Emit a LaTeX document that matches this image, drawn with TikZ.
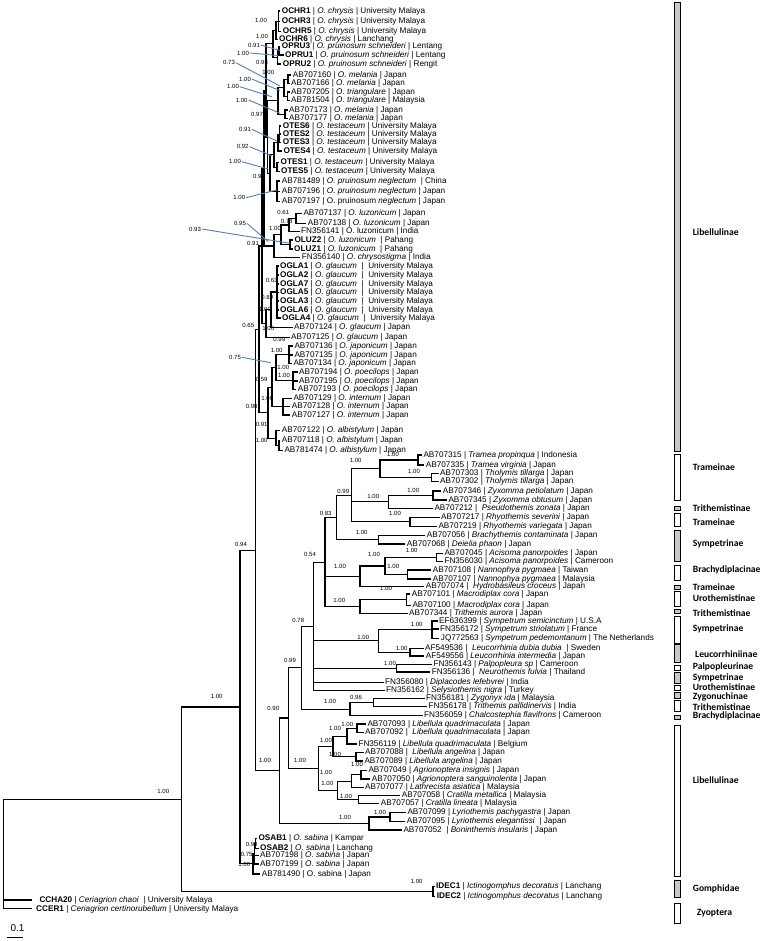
\documentclass[tikz,border=0pt]{standalone}
\usepackage{fontspec}
\setmainfont{Liberation Sans}
\newfontfamily\carl{Carlito}
\usetikzlibrary{calc}
\definecolor{barfill}{RGB}{200,200,200}
\definecolor{leadblue}{RGB}{79,129,189}
\tikzset{
 br/.style={line width=1.1pt,line cap=rect},
 leaf/.style={anchor=west,inner sep=0pt,font=\fontsize{8.2}{9}\selectfont},
 sup/.style={inner sep=0pt,font=\fontsize{6}{6}\selectfont},
 lead/.style={draw=leadblue,line width=0.9pt},
 sub/.style={anchor=west,inner sep=0pt,font=\fontsize{9.6}{10}\selectfont\carl\bfseries},
 sbar/.style={draw=black,line width=1pt}
}
\newcommand\lf[4]{\coordinate (#1) at ({#2-2},#3); \node[leaf] (#1t) at (#2,#3) {#4};}
\newcommand\nd[5]{\path let \p1=(#3), \p2=(#4) in coordinate (#1) at (#2pt,{0.5*(\y1+\y2)});
 \foreach \ch in {#5} {\draw[br] (#1) |- (\ch);}}
\newcounter{svc}
\newcommand\sv[3]{\stepcounter{svc}\edef\svname{sv\arabic{svc}}\node[sup] (\svname) at (#2,#3) {#1};}
\newcommand\svl[5]{\sv{#1}{#2}{#3}\draw[lead] ([xshift=0.8pt]\svname.east) -- (#4,#5);}
\newcommand\sfb[7]{\draw[sbar,fill=#4] (674,#2) rectangle (680.7,#3); \node[sub] (#1) at (#7,#6) {#5};}
\begin{document}
\begin{tikzpicture}[x=1pt,y=-1pt]
\fill[white] (0,0) rectangle (766,941);
\useasboundingbox (0,0) rectangle (766,941);
% ---------- Orthetrum leaves
\lf{ch1}{281.7}{11}{\textbf{OCHR1} | \textit{O. chrysis} | University Malaya}
\lf{ch3}{281.7}{21.7}{\textbf{OCHR3} | \textit{O. chrysis} | University Malaya}
\lf{ch5}{282.7}{31.7}{\textbf{OCHR5} | \textit{O. chrysis} | University Malaya}
\lf{ch6}{279}{39.3}{\textbf{OCHR6} | \textit{O. chrysis} | Lanchang}
\lf{pr3}{281.7}{46.7}{\textbf{OPRU3} | \textit{O. pruinosum schneideri} | Lentang}
\lf{pr1}{285}{55}{\textbf{OPRU1} | \textit{O. pruinosum schneideri} | Lentang}
\lf{pr2}{282.7}{64}{\textbf{OPRU2} | \textit{O. pruinosum schneideri} | Rengit}
\lf{m160}{292.7}{75}{AB707160 | \textit{O. melania} | Japan}
\lf{m166}{291}{83.3}{AB707166 | \textit{O. melania} | Japan}
\lf{t205}{291}{92}{AB707205 | \textit{O. triangulare} | Japan}
\lf{t504}{291}{100.7}{AB781504 | \textit{O. triangulare} | Malaysia}
\lf{m173}{289}{110}{AB707173 | \textit{O. melania} | Japan}
\lf{m177}{289}{118.3}{AB707177 | \textit{O. melania} | Japan}
\lf{te6}{282.7}{126}{\textbf{OTES6} | \textit{O. testaceum} | University Malaya}
\lf{te2}{282.7}{134}{\textbf{OTES2} | \textit{O. testaceum} | University Malaya}
\lf{te3}{282.7}{142.3}{\textbf{OTES3} | \textit{O. testaceum} | University Malaya}
\lf{te4}{283.3}{151}{\textbf{OTES4} | \textit{O. testaceum} | University Malaya}
\lf{te1}{280.5}{162.7}{\textbf{OTES1} | \textit{O. testaceum} | University Malaya}
\lf{te5}{281}{171.7}{\textbf{OTES5} | \textit{O. testaceum} | University Malaya}
\lf{ng89}{281.7}{181}{AB781489 | \textit{O. pruinosum neglectum}\ \ | China}
\lf{ng96}{281.7}{191.7}{AB707196 | \textit{O. pruinosum neglectum} | Japan}
\lf{ng97}{281.7}{201.7}{AB707197 | O. pruinosum \textit{neglectum} | Japan}
\lf{lz37}{303.3}{213.3}{AB707137 | \textit{O. luzonicum} | Japan}
\lf{lz38}{307.7}{223.3}{AB707138 | \textit{O. luzonicum} | Japan}
\lf{lz41}{301}{231.7}{FN356141 | O. luzonicum | India}
\lf{lu2}{294.3}{240}{\textbf{OLUZ2} | \textit{O. luzonicum}\ \ | Pahang}
\lf{lu1}{294}{249}{\textbf{OLUZ1} | \textit{O. luzonicum}\ \ | Pahang}
\lf{cs40}{301.7}{257.3}{FN356140 | \textit{O. chrysostigma} | India}
\lf{g1}{280}{266}{\textbf{OGLA1} | \textit{O. glaucum}\ \ |\ \ University Malaya}
\lf{g2}{280}{275}{\textbf{OGLA2} | \textit{O. glaucum}\ \ |\ \ University Malaya}
\lf{g7}{280}{284}{\textbf{OGLA7} | \textit{O. glaucum}\ \ |\ \ University Malaya}
\lf{g5}{280}{292.3}{\textbf{OGLA5} | \textit{O. glaucum}\ \ |\ \ University Malaya}
\lf{g3}{280}{301}{\textbf{OGLA3} | \textit{O. glaucum}\ \ |\ \ University Malaya}
\lf{g6}{280}{310}{\textbf{OGLA6} | \textit{O. glaucum}\ \ |\ \ University Malaya}
\lf{g4}{282}{318}{\textbf{OGLA4} | \textit{O. glaucum}\ \ |\ \ University Malaya}
\lf{g124}{294}{327.7}{AB707124 | \textit{O. glaucum} | Japan}
\lf{g125}{291}{337.7}{AB707125 | \textit{O. glaucum} | Japan}
\lf{j136}{294.3}{346}{AB707136 | \textit{O. japonicum} | Japan}
\lf{j135}{294.3}{355}{AB707135 | \textit{O. japonicum} | Japan}
\lf{j134}{293.3}{363.7}{AB707134 | \textit{O. japonicum} | Japan}
\lf{p194}{299}{372}{AB707194 | \textit{O. poecilops} | Japan}
\lf{p195}{299}{381}{AB707195 | \textit{O. poecilops} | Japan}
\lf{p193}{297.7}{389.7}{AB707193 | \textit{O. poecilops} | Japan}
\lf{i129}{293.3}{398.3}{AB707129 | \textit{O. internum} | Japan}
\lf{i128}{291.7}{406.7}{AB707128 | \textit{O. internum} | Japan}
\lf{i127}{291.7}{415}{AB707127 | \textit{O. internum} | Japan}
\lf{a122}{281.7}{430.7}{AB707122 | \textit{O. albistylum} | Japan}
\lf{a118}{281.7}{440.7}{AB707118 | \textit{O. albistylum} | Japan}
\lf{a474}{284.3}{450.7}{AB781474 | \textit{O. albistylum} | Japan}
% ---------- other leaves
\lf{tr15}{423.3}{455}{AB707315 | \textit{Tramea propinqua} | Indonesia}
\lf{tr35}{425.7}{465}{AB707335 | \textit{Tramea virginia} | Japan}
\lf{th03}{440}{473.3}{AB707303 | \textit{Tholymis tillarga} | Japan}
\lf{th02}{440}{481.7}{AB707302 | \textit{Tholymis tillarga} | Japan}
\lf{zy46}{442.7}{491}{AB707346 | \textit{Zyxomma petiolatum} | Japan}
\lf{zy45}{448.3}{500}{AB707345 | \textit{Zyxomma obtusum} | Japan}
\lf{ps12}{434.3}{508.3}{AB707212 |\ \ \textit{Pseudothemis zonata} | Japan}
\lf{rh17}{441}{517.3}{AB707217 | \textit{Rhyothemis severini} | Japan}
\lf{rh19}{438.3}{526.3}{AB707219 | \textit{Rhyothemis variegata} | Japan}
\lf{br56}{426.7}{535.7}{AB707056 | \textit{Brachythemis contaminata} | Japan}
\lf{de68}{406.7}{544}{AB707068 | \textit{Deielia phaon} | Japan}
\lf{ac45}{444.3}{553.3}{AB707045 | \textit{Acisoma panorpoides} | Japan}
\lf{ac30}{444.3}{561.7}{FN356030 | \textit{Acisoma panorpoides} | Cameroon}
\lf{na08}{432.7}{570}{AB707108 | \textit{Nannophya pygmaea} | Taiwan}
\lf{na07}{432.7}{579}{AB707107 | \textit{Nannophya pygmaea} | Malaysia}
\lf{hy74}{425.7}{586.7}{AB707074 |\ \ \textit{Hydrobasileus croceus} | Japan}
\lf{mc01}{411.7}{594}{AB707101 | \textit{Macrodiplax cora} | Japan}
\lf{mc00}{412.3}{605.7}{AB707100 | \textit{Macrodiplax cora} | Japan}
\lf{tau}{409}{613.3}{AB707344 | \textit{Trithemis aurora} | Japan}
\lf{sy99}{439}{621}{EF636399 | \textit{Sympetrum semicinctum} | U.S.A}
\lf{sy72}{440}{629}{FN356172 | \textit{Sympetrum striolatum} | France}
\lf{sy63}{440.7}{638.3}{JQ772563 | \textit{Sympetrum pedemontanum} | The Netherlands}
\lf{le36}{425}{648.3}{AF549536 |\ \ \textit{Leucorrhinia dubia dubia}\ \ | Sweden}
\lf{le56}{425.7}{656}{AF549556 | \textit{Leucorrhinia intermedia} | Japan}
\lf{pa43}{433.3}{664.3}{FN356143 | \textit{Palpopleura sp} | Cameroon}
\lf{ne36}{431.7}{672}{FN356136 |\ \ \textit{Neurothemis fulvia} | Thailand}
\lf{di80}{385}{682.3}{FN356080 | \textit{Diplacodes lefebvrei} | India}
\lf{se62}{386}{690.3}{FN356162 | \textit{Selysiothemis nigra} | Turkey}
\lf{zg81}{426}{698.3}{FN356181 | \textit{Zygonyx ida} | Malaysia}
\lf{tp78}{428.3}{706.7}{FN356178 | \textit{Trithemis pallidinervis} | India}
\lf{cf59}{424}{715.7}{FN356059 | \textit{Chalcostephia flavifrons} | Cameroon}
\lf{lq93}{367.3}{724}{AB707093 | \textit{Libellula quadrimaculata} | Japan}
\lf{lq92}{365}{732.7}{AB707092 |\ \ \textit{Libellula quadrimaculata} | Japan}
\lf{lq19}{358.3}{744}{FN356119 | \textit{Libellula quadrimaculata} | Belgium}
\lf{la88}{365}{752.7}{AB707088 |\ \ \textit{Libellula angelina} | Japan}
\lf{la89}{364.3}{761}{AB707089 | \textit{Libellula angelina} | Japan}
\lf{ag49}{368.3}{770.7}{AB707049 | \textit{Agrionoptera insignis} | Japan}
\lf{ag50}{371.7}{779}{AB707050 | \textit{Agrionoptera sanguinolenta} | Japan}
\lf{lt77}{365}{787.3}{AB707077 | \textit{Lathrecista asiatica} | Malaysia}
\lf{cr58}{401.7}{795.7}{AB707058 | \textit{Cratilla metallica} | Malaysia}
\lf{cr57}{380.7}{803.3}{AB707057 | \textit{Cratilla lineata} | Malaysia}
\lf{ly99}{407.3}{812.3}{AB707099 | \textit{Lyriothemis pachygastra} | Japan}
\lf{ly95}{406.7}{821.7}{AB707095 | \textit{Lyriothemis elegantissi}\ \ | Japan}
\lf{bo52}{403.3}{830}{AB707052\ \ | \textit{Boninthemis insularis} | Japan}
\lf{sa1}{258.3}{838.3}{\textbf{OSAB1} | \textit{O. sabina} | Kampar}
\lf{sa2}{260}{848.3}{\textbf{OSAB2} | \textit{O. sabina} | Lanchang}
\lf{sa98}{260}{855.5}{AB707198 | \textit{O. sabina} | Japan}
\lf{sa99}{260}{864}{AB707199 | \textit{O. sabina} | Japan}
\lf{sa90}{261.7}{874}{AB781490 | O. sabina | Japan}
\lf{id1}{436}{886.5}{\textbf{IDEC1} | \textit{Ictinogomphus decoratus} | Lanchang}
\lf{id2}{436.7}{896.5}{\textbf{IDEC2} | \textit{Ictinogomphus decoratus} | Lanchang}
\coordinate (cc1) at (31.7,900);
\node[leaf] (cc1t) at (39.3,900) {\textbf{CCHA20} | \textit{Ceriagrion chaoi}\ \ | University Malaya};
\coordinate (cc2) at (31.7,908.7);
\node[leaf] (cc2t) at (36,909) {\textbf{CCER1} | \textit{Ceriagrion certinorubellum} | University Malaya};
% ---------- Orthetrum internal nodes
\nd{cha}{278.5}{ch1}{ch5}{ch1,ch3,ch5}
\nd{chn}{276}{cha}{ch6}{cha,ch6}
\nd{psa}{279}{pr3}{pr1}{pr3,pr1}
\nd{psn}{277.5}{psa}{pr2}{psa,pr2}
\nd{chp}{273}{chn}{psn}{chn,psn}
\nd{ma}{288}{m160}{m166}{m160,m166}
\nd{mb}{287.5}{t205}{t504}{t205,t504}
\nd{mab}{284}{ma}{mb}{ma,mb}
\nd{mc}{285}{m173}{m177}{m173,m177}
\nd{mtg}{278}{mab}{mc}{mab,mc}
\nd{tea}{279.5}{te6}{te3}{te6,te2,te3}
\nd{teb}{277}{te1}{te5}{te1,te5}
\nd{tec}{278}{tea}{te4}{tea,te4}
\nd{ten}{274}{tec}{teb}{tec,teb}
\nd{ngn}{277}{ng89}{ng97}{ng89,ng96,ng97}
\nd{tn}{270}{ten}{ngn}{ten,ngn}
\nd{mtn}{267.5}{mtg}{tn}{mtg,tn}
\nd{tone}{266}{chp}{mtn}{chp,mtn}
\nd{lza}{296}{lz37}{lz38}{lz37,lz38}
\nd{lzb}{289}{lza}{lz41}{lza,lz41}
\nd{oln}{290}{lu2}{lu1}{lu2,lu1}
\nd{lzc}{281}{lzb}{oln}{lzb,oln}
\nd{lzn}{274}{lzc}{cs40}{lzc,cs40}
\nd{ttn1}{264}{tone}{lzn}{tone,lzn}
\nd{g1n}{277}{g1}{g4}{g1,g2,g7,g5,g3,g6,g4}
\nd{g2n}{271}{g1n}{g124}{g1n,g124}
\nd{gla}{266}{g2n}{g125}{g2n,g125}
\nd{un}{262}{ttn1}{gla}{ttn1,gla}
\nd{ja}{289}{j136}{j134}{j136,j135,j134}
\nd{po}{293}{p194}{p193}{p194,p195,p193}
\nd{jp}{276}{ja}{po}{ja,po}
\nd{intn}{283}{i129}{i127}{i129,i128,i127}
\nd{jpi}{272}{jp}{intn}{jp,intn}
\nd{albb}{279}{a118}{a474}{a118,a474}
\nd{alb}{276}{a122}{albb}{a122,albb}
\nd{ln}{268}{jpi}{alb}{jpi,alb}
\nd{orth}{259}{un}{ln}{un,ln}
% ---------- other internal nodes
\nd{tra}{418}{tr15}{tr35}{tr15,tr35}
\nd{tho}{431.7}{th03}{th02}{th03,th02}
\nd{ttn}{380}{tra}{tho}{tra,tho}
\nd{zyx}{433}{zy46}{zy45}{zy46,zy45}
\nd{zp}{388.3}{zyx}{ps12}{zyx,ps12}
\nd{rh}{410}{rh17}{rh19}{rh17,rh19}
\nd{nnn}{351.7}{ttn}{rh}{ttn,zp,rh}
\nd{brn}{378.3}{br56}{de68}{br56,de68}
\nd{neei}{336.7}{nnn}{brn}{nnn,brn}
\nd{acn}{436.7}{ac45}{ac30}{ac45,ac30}
\nd{nan}{407.3}{na08}{na07}{na08,na07}
\nd{ann}{385}{acn}{nan}{acn,nan}
\nd{acc}{360}{ann}{hy74}{ann,hy74}
\nd{mcn}{406.7}{mc01}{mc00}{mc01,mc00}
\nd{mtt}{360}{mcn}{tau}{mcn,tau}
\nd{nfiv}{325}{neei}{mtt}{neei,acc,mtt}
\nd{sym}{432}{sy99}{sy63}{sy99,sy72,sy63}
\nd{leu}{410}{le36}{le56}{le36,le56}
\nd{sl}{378.3}{sym}{leu}{sym,leu}
\nd{pn}{396.7}{pa43}{ne36}{pa43,ne36}
\nd{kn}{313.3}{nfiv}{se62}{nfiv,sl,pn,di80,se62}
\nd{zt}{373.3}{zg81}{tp78}{zg81,tp78}
\nd{zn}{350}{zt}{cf59}{zt,cf59}
\nd{dn}{301.7}{kn}{zn}{kn,zn}
\nd{lqa}{357}{lq93}{lq92}{lq93,lq92}
\nd{lqn}{347}{lqa}{lq19}{lqa,lq19}
\nd{lan}{356}{la88}{la89}{la88,la89}
\nd{lib}{333}{lqn}{lan}{lqn,lan}
\nd{aga}{361}{ag49}{ag50}{ag49,ag50}
\nd{agr}{351.7}{aga}{lt77}{aga,lt77}
\nd{cra}{358.3}{cr58}{cr57}{cr58,cr57}
\nd{agc}{337.3}{agr}{cra}{agr,cra}
\nd{en}{318.3}{lib}{agc}{lib,agc}
\nd{cn}{288.3}{dn}{en}{dn,en}
\nd{lyn}{390}{ly99}{ly95}{ly99,ly95}
\nd{lbn}{369}{lyn}{bo52}{lyn,bo52}
\nd{bn}{279.3}{cn}{lbn}{cn,lbn}
\nd{xn}{255.7}{orth}{bn}{orth,bn}
\nd{sa}{255.5}{sa1}{sa2}{sa1,sa2}
\nd{sb}{254.5}{sa}{sa99}{sa,sa98,sa99}
\nd{sab}{253}{sb}{sa90}{sb,sa90}
\nd{xz}{240}{xn}{sab}{xn,sab}
\nd{idn}{433}{id1}{id2}{id1,id2}
\nd{rone}{181.7}{xz}{idn}{xz,idn}
\nd{rzero}{3.5}{rone}{cc2}{rone,cc1,cc2}
% ---------- support values with leaders
\svl{0.91}{254}{45}{280}{50.5}
\svl{1.00}{243}{53}{278}{55.5}
\svl{0.73}{229}{62.7}{280}{86}
\svl{1.00}{245}{79}{280}{90.7}
\svl{1.00}{233}{86.7}{271.7}{96.7}
\svl{1.00}{241.7}{100}{280}{113.3}
\svl{0.91}{245}{129.3}{276.7}{141}
\svl{0.92}{242.7}{146.7}{271.7}{155.7}
\svl{1.00}{235}{161.7}{268.3}{169}
\svl{1.00}{239.3}{197.7}{276.7}{190}
\svl{0.95}{240}{223.3}{268.3}{241.7}
\svl{0.93}{195}{229}{290}{243.3}
\svl{0.75}{235}{357.3}{270.7}{362.7}
% ---------- support values
\sv{1.00}{261}{20.7}\sv{1.00}{262}{36}\sv{0.98}{262}{62.3}\sv{1.00}{268.3}{72.7}
\sv{0.97}{257}{114.3}\sv{0.90}{259}{176.7}\sv{0.61}{283.3}{212.7}\sv{0.78}{286.7}{221}
\sv{1.00}{275}{228.3}\sv{0.91}{253}{243.3}\sv{0.63}{271.7}{280.7}\sv{0.89}{267.3}{297.7}
\sv{1.00}{265}{309.3}\sv{0.65}{248.3}{325}\sv{1.00}{268.3}{328.3}\sv{0.99}{279.3}{339}
\sv{1.00}{276.7}{350}\sv{1.00}{283.3}{367.3}\sv{1.00}{284}{375}\sv{0.59}{261.7}{379.3}
\sv{1.00}{267.3}{398.3}\sv{0.98}{251.7}{406.7}\sv{0.91}{261.7}{424}\sv{1.00}{261.7}{440.7}
\sv{1.00}{393}{454}\sv{1.00}{355.7}{460.7}\sv{1.00}{414}{471.7}\sv{0.99}{343.3}{491}
\sv{1.00}{413.3}{490.7}\sv{1.00}{373.3}{496}\sv{0.83}{325.7}{513.3}\sv{1.00}{395}{513.3}
\sv{1.00}{361.7}{532.3}\sv{0.54}{310}{554.3}\sv{1.00}{374}{554.3}\sv{1.00}{411.7}{550.7}
\sv{1.00}{340}{566.7}\sv{1.00}{393.3}{566.7}\sv{1.00}{386}{588.3}\sv{1.00}{339.3}{600}
\sv{0.78}{298.3}{620}\sv{1.00}{416.7}{624.3}\sv{1.00}{363.3}{637.7}\sv{1.00}{401.7}{648.3}
\sv{0.99}{290}{660}\sv{1.00}{390}{663.3}\sv{1.00}{216.7}{696}\sv{1.00}{330}{701.7}
\sv{0.96}{356}{697.7}\sv{0.90}{273.3}{708.3}\sv{1.00}{347.3}{724}\sv{1.00}{335}{728.3}
\sv{1.00}{326}{740}\sv{1.00}{335}{754}\sv{1.00}{357}{764}\sv{1.00}{300}{760}
\sv{1.00}{265}{760}\sv{1.00}{326}{772.7}\sv{1.00}{327.3}{783.3}\sv{1.00}{346}{796}
\sv{1.00}{380}{812.7}\sv{1.00}{345}{817}\sv{1.00}{163.3}{791.7}\sv{0.94}{241}{544}
\sv{0.99}{251.7}{844}\sv{0.75}{246.7}{854.3}\sv{1.00}{244.3}{864.3}\sv{1.00}{416.7}{881.7}
% ---------- scale bar
\coordinate (scA) at (6.7,937.3);
\coordinate (scB) at (22.7,937.3);
\draw[line width=1pt] (scA) -- (scB);
\node[inner sep=0pt,font=\fontsize{10}{10}\selectfont] (scl) at (17.5,927.7) {0.1};
% ---------- subfamily bars
\sfb{sb1}{3}{451}{barfill}{Libellulinae}{232}{692.7}
\sfb{sb2}{454.5}{500.7}{white}{Trameinae}{467}{692.7}
\sfb{sb3}{506}{510.5}{barfill}{Trithemistinae}{508.3}{692.7}
\sfb{sb4}{513.3}{526}{white}{Trameinae}{521.7}{692.7}
\sfb{sb5}{530}{561.7}{barfill}{Sympetrinae}{544}{692.7}
\sfb{sb6}{565}{580}{white}{Brachydiplacinae}{570}{692.7}
\sfb{sb7}{585}{589.5}{barfill}{Trameinae}{587.3}{692.7}
\sfb{sb8}{591}{606.7}{white}{Urothemistinae}{597.7}{692.7}
\sfb{sb9}{609.3}{613}{barfill}{Trithemistinae}{613.3}{692.7}
\sfb{sb10}{616.7}{643.3}{white}{Sympetrinae}{629.3}{692.7}
\sfb{sb11}{644.5}{662}{barfill}{Leucorrhiniinae}{654.3}{695}
\sfb{sb12}{665}{670}{white}{Palpopleurinae}{667.3}{692.7}
\sfb{sb13}{672.7}{683.3}{barfill}{Sympetrinae}{678.3}{692.7}
\sfb{sb14}{685}{690}{white}{Urothemistinae}{687.3}{692.7}
\sfb{sb15}{692}{698}{barfill}{Zygonuchinae}{696.7}{692.7}
\sfb{sb16}{700}{711.7}{white}{Trithemistinae}{706.7}{692.7}
\sfb{sb17}{715}{719.3}{barfill}{Brachydiplacinae}{716}{692.7}
\sfb{sb18}{725}{876}{white}{Libellulinae}{780}{692.7}
\sfb{sb19}{880.7}{897.3}{barfill}{Gomphidae}{889}{692.7}
\sfb{sb20}{903.3}{923.3}{white}{Zyoptera}{912.7}{696.7}
\end{tikzpicture}
\end{document}
